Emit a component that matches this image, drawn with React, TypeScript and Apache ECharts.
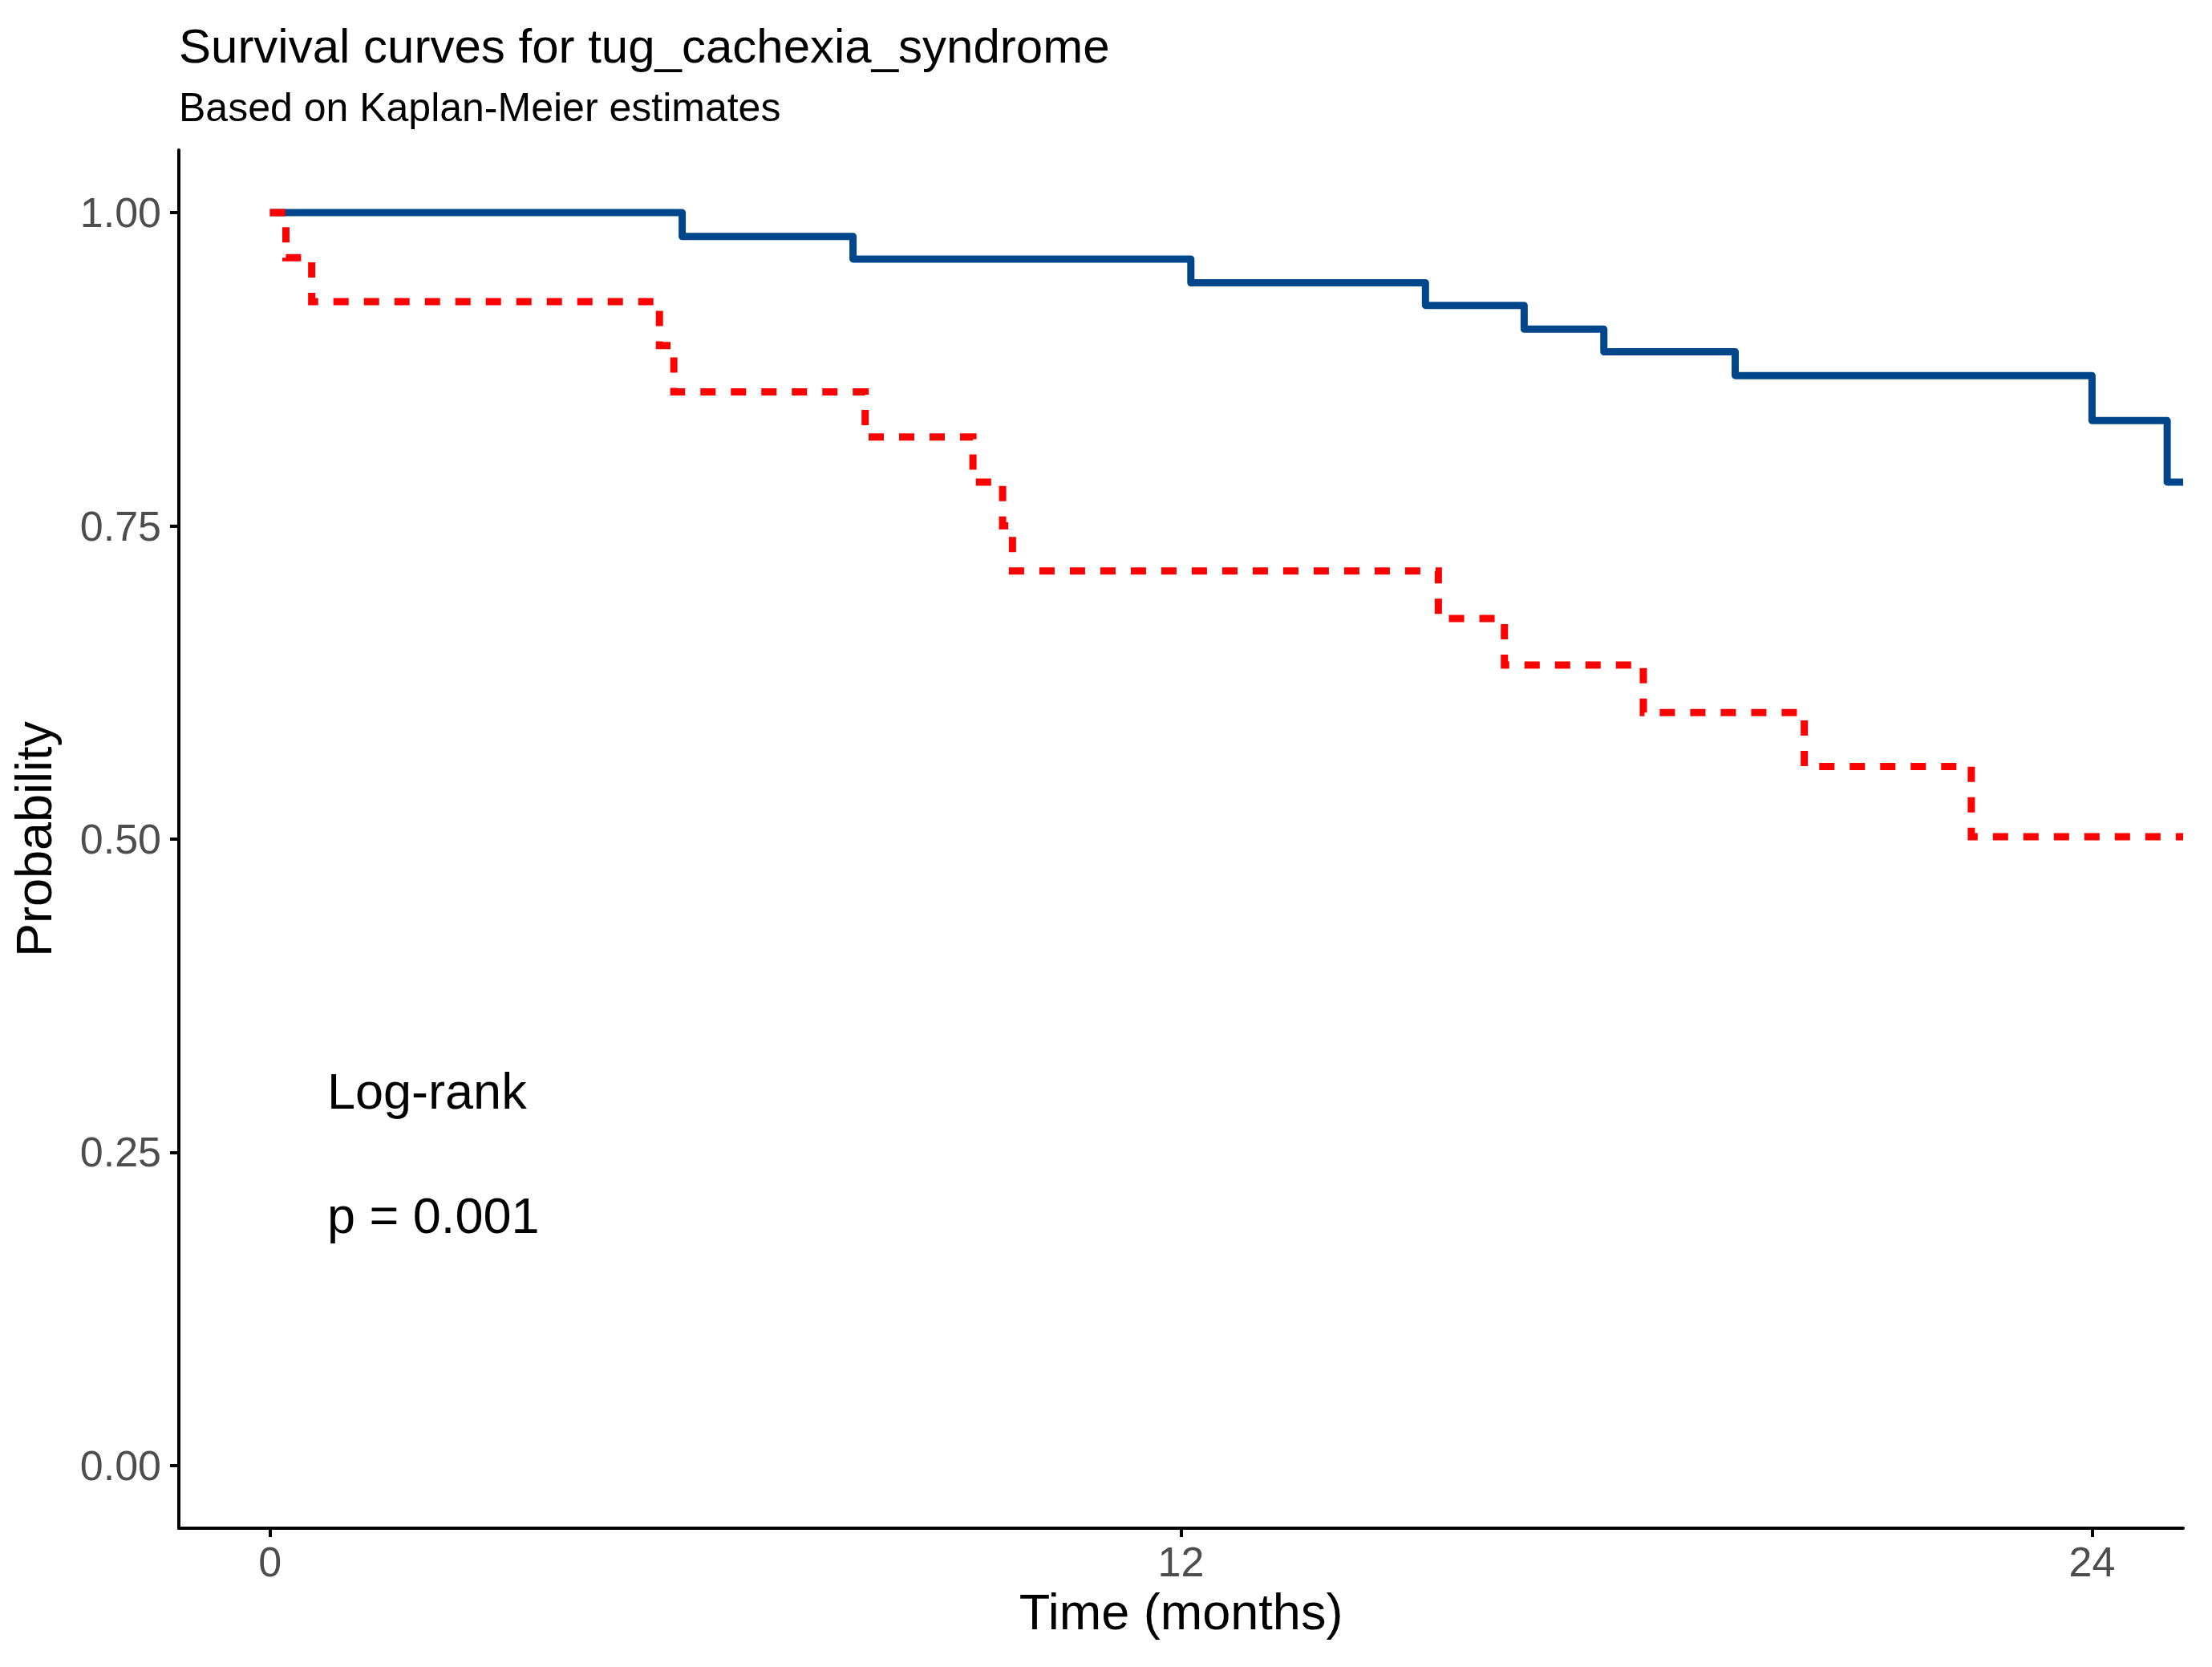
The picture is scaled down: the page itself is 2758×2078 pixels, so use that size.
import React, { useEffect, useRef } from "react";
import * as echarts from "echarts";

const titleText = "Survival curves for tug_cachexia_syndrome";
const subtitleText = "Based on Kaplan-Meier estimates";
const xAxisTitle = "Time (months)";
const yAxisTitle = "Probability";
const xTicks = [0, 12, 24];
const yTicks = [0, 0.25, 0.5, 0.75, 1];
const annotationLines = ["Log-rank", "p = 0.001"];

// group 1 (solid blue)
const blueTimes = [0, 5.43, 7.68, 12.13, 15.22, 16.52, 17.57, 19.3, 24.0, 24.99, 25.2];
const blueSurv = [1, 0.981, 0.963, 0.944, 0.926, 0.907, 0.889, 0.87, 0.834, 0.785, 0.785];

// group 2 (dashed red)
const redTimes = [0, 0.21, 0.55, 5.13, 5.32, 7.84, 9.26, 9.65, 9.78, 15.39, 16.26, 18.09, 20.21, 22.41, 25.2];
const redSurv = [1, 0.964, 0.929, 0.894, 0.857, 0.821, 0.785, 0.75, 0.714, 0.676, 0.639, 0.601, 0.558, 0.502, 0.502];

const FONT = "'Liberation Sans', Arial, Helvetica, sans-serif";

export default function App() {
  const ref = useRef<HTMLDivElement>(null);

  useEffect(() => {
    document.body.style.margin = "0";
    if (!ref.current) return;
    const chart = echarts.init(ref.current, undefined, { renderer: "svg" });

    const blueData = blueTimes.map((t, i) => [t, blueSurv[i]]);
    const redData = redTimes.map((t, i) => [t, redSurv[i]]);

    chart.setOption({
      animation: false,
      backgroundColor: "#ffffff",
      textStyle: { fontFamily: FONT },
      grid: { left: 223, right: 36, top: 187, bottom: 173, containLabel: false },
      xAxis: {
        type: "value",
        min: -1.2,
        max: 25.2,
        name: xAxisTitle,
        nameLocation: "middle",
        nameGap: 72,
        nameTextStyle: { fontSize: 63, color: "#000000", fontFamily: FONT },
        axisLine: { show: true, onZero: false, lineStyle: { color: "#000000", width: 4 } },
        axisTick: { show: true, length: 11, lineStyle: { color: "#000000", width: 4 }, customValues: xTicks },
        axisLabel: { show: true, fontSize: 52, color: "#4d4d4d", margin: 16, fontFamily: FONT, customValues: xTicks },
        splitLine: { show: false },
      },
      yAxis: {
        type: "value",
        min: -0.05,
        max: 1.05,
        name: yAxisTitle,
        nameLocation: "middle",
        nameGap: 150,
        nameRotate: 90,
        nameTextStyle: { fontSize: 63, color: "#000000", fontFamily: FONT },
        axisLine: { show: true, onZero: false, lineStyle: { color: "#000000", width: 4 } },
        axisTick: { show: true, length: 11, lineStyle: { color: "#000000", width: 4 }, customValues: yTicks },
        axisLabel: {
          show: true,
          fontSize: 52,
          color: "#4d4d4d",
          margin: 22,
          fontFamily: FONT,
          customValues: yTicks,
          formatter: (v: number) => v.toFixed(2),
        },
        splitLine: { show: false },
      },
      series: [
        {
          type: "line",
          step: "end",
          data: blueData,
          showSymbol: false,
          symbol: "none",
          clip: true,
          lineStyle: { color: "#00468B", width: 9, cap: "butt", join: "round" },
          z: 2,
        },
        {
          type: "line",
          step: "end",
          data: redData,
          showSymbol: false,
          symbol: "none",
          clip: true,
          lineStyle: { color: "#FF0000", width: 9, type: [19, 19], cap: "butt", join: "miter" },
          z: 3,
        },
      ],
      graphic: [
        {
          type: "text",
          x: 223,
          y: 57,
          style: { text: titleText, fontSize: 60, fill: "#000000", fontFamily: FONT, verticalAlign: "middle" },
        },
        {
          type: "text",
          x: 223,
          y: 134,
          style: { text: subtitleText, fontSize: 50, fill: "#000000", fontFamily: FONT, verticalAlign: "middle" },
        },
        {
          type: "text",
          x: 408,
          y: 1360,
          style: { text: annotationLines[0], fontSize: 63, fill: "#000000", fontFamily: FONT, verticalAlign: "middle" },
        },
        {
          type: "text",
          x: 408,
          y: 1515,
          style: { text: annotationLines[1], fontSize: 63, fill: "#000000", fontFamily: FONT, verticalAlign: "middle" },
        },
      ],
    });

    return () => {
      chart.dispose();
    };
  }, []);

  return (
    <div
      ref={ref}
      style={{ position: "absolute", left: 0, top: 0, width: 2758, height: 2078, background: "#ffffff" }}
    />
  );
}
